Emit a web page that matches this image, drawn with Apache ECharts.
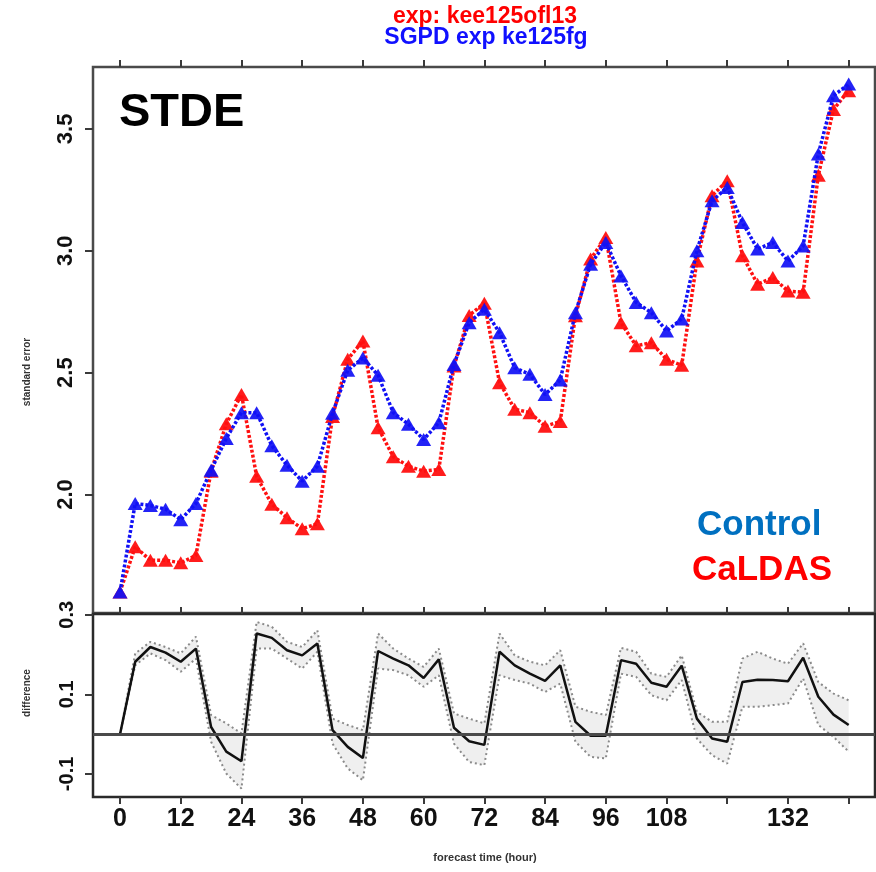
<!DOCTYPE html>
<html>
<head>
<meta charset="utf-8">
<script src="https://cdn.jsdelivr.net/npm/echarts@6/dist/echarts.min.js"></script>
<style>
  html, body { margin: 0; padding: 0; background: #fff; }
  #chart { width: 876px; height: 872px; }
</style>
</head>
<body>
<div id="chart"></div>
<script>
// Forecast lead times (hours)
const hours = [0, 3, 6, 9, 12, 15, 18, 21, 24, 27, 30, 33, 36, 39, 42, 45, 48,
  51, 54, 57, 60, 63, 66, 69, 72, 75, 78, 81, 84, 87, 90, 93, 96,
  99, 102, 105, 108, 111, 114, 117, 120, 123, 126, 129, 132, 135, 138, 141, 144];

// Standard error of the two experiments
const controlStde = [1.60, 1.963, 1.955, 1.94, 1.897, 1.963, 2.10, 2.23, 2.336, 2.336, 2.20, 2.12, 2.055,
  2.116, 2.333, 2.51, 2.56, 2.489, 2.336, 2.288, 2.226, 2.295, 2.534, 2.705, 2.76,
  2.664, 2.52, 2.493, 2.41, 2.47, 2.746, 2.945, 3.034, 2.897, 2.788, 2.746, 2.671,
  2.72, 3.0, 3.205, 3.26, 3.116, 3.007, 3.034, 2.958, 3.02, 3.397, 3.636, 3.684];
const caldasStde = [1.60, 1.786, 1.73, 1.73, 1.72, 1.75, 2.096, 2.29, 2.41, 2.075, 1.96, 1.905, 1.86,
  1.88, 2.32, 2.555, 2.63, 2.274, 2.155, 2.116, 2.096, 2.103, 2.527, 2.735, 2.785,
  2.459, 2.35, 2.336, 2.28, 2.30, 2.733, 2.966, 3.055, 2.705, 2.61, 2.623, 2.555,
  2.53, 2.958, 3.226, 3.287, 2.98, 2.863, 2.89, 2.835, 2.83, 3.31, 3.58, 3.657];

// Difference (Control - CaLDAS) with its confidence band
const diffMean = [0, 0.182, 0.219, 0.205, 0.182, 0.215, 0.018, -0.044, -0.068, 0.253, 0.242, 0.211, 0.198,
  0.228, 0.01, -0.032, -0.06, 0.209, 0.19, 0.173, 0.141, 0.188, 0.016, -0.018, -0.027,
  0.207, 0.173, 0.152, 0.134, 0.173, 0.031, -0.004, -0.004, 0.186, 0.177, 0.129, 0.119,
  0.172, 0.039, -0.011, -0.019, 0.131, 0.137, 0.136, 0.133, 0.192, 0.094, 0.049, 0.023];
const diffUpper = [0, 0.203, 0.232, 0.219, 0.203, 0.245, 0.048, 0.027, 0.002, 0.282, 0.27, 0.232, 0.219,
  0.261, 0.039, 0.023, 0.01, 0.253, 0.215, 0.19, 0.169, 0.215, 0.052, 0.039, 0.027,
  0.253, 0.198, 0.182, 0.173, 0.211, 0.069, 0.056, 0.048, 0.217, 0.207, 0.152, 0.144,
  0.198, 0.056, 0.031, 0.031, 0.19, 0.207, 0.19, 0.177, 0.228, 0.131, 0.102, 0.085];
const diffLower = [0, 0.173, 0.203, 0.186, 0.157, 0.19, -0.019, -0.099, -0.137, 0.215, 0.215, 0.19, 0.165,
  0.207, -0.024, -0.086, -0.116, 0.165, 0.161, 0.148, 0.119, 0.148, -0.024, -0.07, -0.078,
  0.148, 0.136, 0.127, 0.106, 0.127, -0.019, -0.057, -0.061, 0.152, 0.144, 0.098, 0.085,
  0.136, -0.011, -0.053, -0.074, 0.069, 0.069, 0.073, 0.077, 0.14, 0.023, -0.007, -0.044];

// Axis ticks and labels
const xTickHours = [0, 12, 24, 36, 48, 60, 72, 84, 96, 108, 120, 132, 144];
const xLabelHours = [0, 12, 24, 36, 48, 60, 72, 84, 96, 108, 132];
const stdeTicks = [2.0, 2.5, 3.0, 3.5];
const diffTicks = [-0.1, 0.1, 0.3];

const pairs = (ys) => hours.map((h, i) => [h, ys[i]]);

const FONT = '"Liberation Sans", Arial, Helvetica, sans-serif';
const AX = '#3a3a3a';
const X_MIN = -5.34, X_MAX = 149.2;

const chart = echarts.init(document.getElementById('chart'), null, { renderer: 'canvas' });

const xBase = {
  type: 'value', min: X_MIN, max: X_MAX,
  splitLine: { show: false },
  axisLine: { show: false, onZero: false },
  axisTick: { show: true, length: 7, customValues: xTickHours, lineStyle: { color: AX, width: 2 } },
  axisLabel: { show: false }
};

const yBase = {
  type: 'value',
  splitLine: { show: false },
  axisLine: { show: false, onZero: false }
};

chart.setOption({
  animation: false,
  backgroundColor: '#fff',
  grid: [
    { left: 93, top: 67, width: 782, height: 546, show: true, borderColor: '#4a4a4a', borderWidth: 2.5, backgroundColor: 'transparent' },
    { left: 93, top: 614, width: 782, height: 183, show: true, borderColor: '#2a2a2a', borderWidth: 2.5, backgroundColor: 'transparent' }
  ],
  xAxis: [
    Object.assign({}, xBase, { gridIndex: 0, position: 'top' }),
    Object.assign({}, xBase, { gridIndex: 1, position: 'top' }),
    Object.assign({}, xBase, {
      gridIndex: 1, position: 'bottom',
      axisLabel: {
        show: true, customValues: xLabelHours, margin: 10,
        fontFamily: FONT, fontWeight: 'bold', fontSize: 25, color: '#111'
      }
    })
  ],
  yAxis: [
    Object.assign({}, yBase, {
      gridIndex: 0, min: 1.514, max: 3.754,
      axisTick: { show: true, length: 8, customValues: stdeTicks, lineStyle: { color: AX, width: 2 } },
      axisLabel: {
        show: true, customValues: stdeTicks, rotate: 90, margin: 16,
        formatter: (v) => v.toFixed(1),
        fontFamily: FONT, fontWeight: 'bold', fontSize: 22, color: '#111'
      }
    }),
    Object.assign({}, yBase, {
      gridIndex: 1, min: -0.158, max: 0.302,
      axisTick: { show: true, length: 8, customValues: diffTicks, lineStyle: { color: AX, width: 2 } },
      axisLabel: {
        show: true, customValues: diffTicks, rotate: 90, margin: 16,
        formatter: (v) => v.toFixed(1),
        fontFamily: FONT, fontWeight: 'bold', fontSize: 20, color: '#111'
      }
    })
  ],
  series: [
    {
      name: 'CaLDAS', type: 'line', xAxisIndex: 0, yAxisIndex: 0,
      data: pairs(caldasStde),
      symbol: 'triangle', symbolSize: [15, 13], showSymbol: true,
      itemStyle: { color: '#ff1010', opacity: 0.95 },
      lineStyle: { color: '#ff1010', width: 3.5, type: [3, 2] },
      z: 3
    },
    {
      name: 'Control', type: 'line', xAxisIndex: 0, yAxisIndex: 0,
      data: pairs(controlStde),
      symbol: 'triangle', symbolSize: [15, 13], showSymbol: true,
      itemStyle: { color: '#1010f5', opacity: 0.92 },
      lineStyle: { color: '#1010f5', width: 3.5, type: [3, 2] },
      z: 4
    },
    {
      // shaded confidence band of the difference
      name: 'band', type: 'custom', xAxisIndex: 2, yAxisIndex: 1,
      data: [[0, 0]], silent: true, z: 1,
      renderItem: function (params, api) {
        const pts = [];
        hours.forEach((h, i) => pts.push(api.coord([h, diffUpper[i]])));
        for (let i = hours.length - 1; i >= 0; i--) pts.push(api.coord([hours[i], diffLower[i]]));
        return { type: 'polygon', shape: { points: pts }, style: { fill: '#efefef', stroke: null } };
      }
    },
    {
      name: 'upper', type: 'line', xAxisIndex: 2, yAxisIndex: 1,
      data: pairs(diffUpper), symbol: 'none', silent: true,
      lineStyle: { color: '#8a8a8a', width: 2, type: [2, 3] }, z: 2
    },
    {
      name: 'lower', type: 'line', xAxisIndex: 2, yAxisIndex: 1,
      data: pairs(diffLower), symbol: 'none', silent: true,
      lineStyle: { color: '#8a8a8a', width: 2, type: [2, 3] }, z: 2
    },
    {
      name: 'difference', type: 'line', xAxisIndex: 2, yAxisIndex: 1,
      data: pairs(diffMean), symbol: 'none', silent: true,
      lineStyle: { color: '#111', width: 2.5 }, z: 4,
      markLine: {
        silent: true, symbol: 'none', label: { show: false },
        lineStyle: { color: '#4a4a4a', width: 3, type: 'solid' },
        data: [{ yAxis: 0 }]
      }
    }
  ],
  graphic: [
    { type: 'text', left: 119, top: 90, style: { text: 'STDE', font: 'bold 47px ' + FONT, fill: '#000' } },
    { type: 'text', left: 697, top: 508, style: { text: 'Control', font: 'bold 35px ' + FONT, fill: '#0070C0' } },
    { type: 'text', left: 692, top: 553, style: { text: 'CaLDAS', font: 'bold 35px ' + FONT, fill: '#FF0000' } },
    { type: 'text', x: 485, y: 17, style: { text: 'exp: kee125ofl13', font: 'bold 23px ' + FONT, fill: '#ff0000', align: 'center', verticalAlign: 'middle' } },
    { type: 'text', x: 486, y: 38, style: { text: 'SGPD exp ke125fg', font: 'bold 23px ' + FONT, fill: '#1010ff', align: 'center', verticalAlign: 'middle' } },
    { type: 'text', x: 27, y: 372, rotation: Math.PI / 2, style: { text: 'standard error', font: 'bold 10px ' + FONT, fill: '#333', align: 'center', verticalAlign: 'middle' } },
    { type: 'text', x: 27, y: 693, rotation: Math.PI / 2, style: { text: 'difference', font: 'bold 10px ' + FONT, fill: '#333', align: 'center', verticalAlign: 'middle' } },
    { type: 'text', x: 485, y: 858, style: { text: 'forecast time (hour)', font: 'bold 11px ' + FONT, fill: '#333', align: 'center', verticalAlign: 'middle' } }
  ]
});
</script>
</body>
</html>
